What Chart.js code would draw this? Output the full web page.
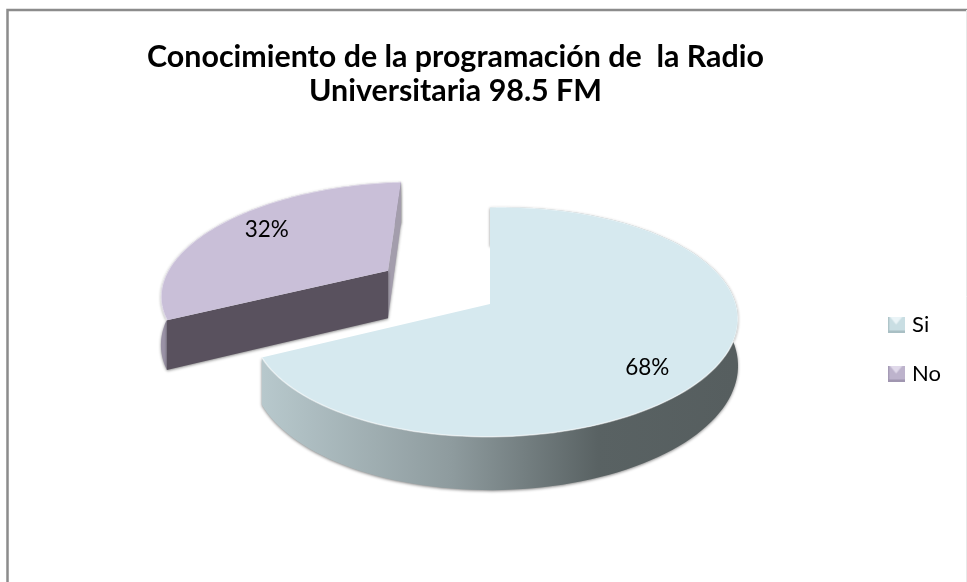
<!DOCTYPE html>
<html>
<head>
<meta charset="utf-8">
<style>
  html, body { margin: 0; padding: 0; background: #fff; }
  #wrap { width: 967px; height: 582px; position: relative; overflow: hidden; }
</style>
<script src="https://cdn.jsdelivr.net/npm/chart.js@4"></script>
</head>
<body>
<div id="wrap"><canvas id="pieChart" width="967" height="582"></canvas></div>
<script>
var titleLines = ["Conocimiento de la programación de  la Radio", "Universitaria 98.5 FM"];
var categories = ["Si", "No"];
var values = [68, 32];

var topColors = ["#d6e9ef", "#c9bfd8"];
var rimColors = [null, "#9a92a6"];
var wallHeights = [45, 50];
var sliceNudge = [[0, 0], [-2, -5]];
var labelNudge = [[0, 19], [0, -11]];

// plate -> screen projection, the 3D look of the pie
var view = { cx: 490, cy: 304, b: 240, a: 112, k: 0.1565, m: 0.02, t: -3.5 };

function project(u, v, depth) {
  var w = 1 - view.k * v - view.m * u;
  return {
    x: view.cx + (view.b * u) / w,
    y: view.cy + (view.a * v + view.t * u) / w,
    d: depth / w
  };
}

function arcPoints(el, i) {
  var mid = (el.startAngle + el.endAngle) / 2;
  var ex = el.options.offset / el.outerRadius;
  var ox = Math.cos(mid) * ex, oy = Math.sin(mid) * ex;
  var pts = [];
  var steps = 120;
  for (var n = 0; n <= steps; n++) {
    var a = el.startAngle + (el.endAngle - el.startAngle) * n / steps;
    pts.push(project(ox + Math.cos(a), oy + Math.sin(a), wallHeights[i]));
  }
  return { rim: pts, apex: project(ox, oy, wallHeights[i]), ox: ox, oy: oy, mid: mid };
}

function poly(ctx, pts, fill) {
  ctx.beginPath();
  pts.forEach(function (p, i) {
    if (i === 0) ctx.moveTo(p.x, p.y);
    else ctx.lineTo(p.x, p.y);
  });
  ctx.closePath();
  ctx.fillStyle = fill;
  ctx.fill();
}

function down(p) {
  return { x: p.x, y: p.y + p.d };
}

function drawSlice(ctx, el, i) {
  var g = arcPoints(el, i);
  var first = g.rim[0], last = g.rim[g.rim.length - 1];

  ctx.save();
  ctx.translate(sliceNudge[i][0], sliceNudge[i][1]);

  ctx.save();
  ctx.shadowColor = "rgba(0,0,0,0.45)";
  ctx.shadowBlur = 3;
  ctx.shadowOffsetY = 1;

  // outer wall
  var fill = rimColors[i];
  if (!fill) {
    fill = ctx.createLinearGradient(263, 0, 735, 0);
    fill.addColorStop(0, "#b7c8cc");
    fill.addColorStop(0.4, "#8e9b9e");
    fill.addColorStop(0.71, "#596263");
    fill.addColorStop(1, "#565e5f");
  }
  poly(ctx, g.rim.concat(g.rim.map(down).reverse()), fill);

  // cut faces, only the parts that show
  if (i === 0) {
    poly(ctx, [down(first), g.apex, down(g.apex)], "#5f6b6c");
  } else {
    poly(ctx, [g.apex, last, down(last), down(g.apex)], "#a39dac");
    poly(ctx, [g.apex, first, down(first), down(g.apex)], "#59515e");
  }
  ctx.restore();

  // top face
  poly(ctx, [g.apex].concat(g.rim), el.options.backgroundColor);

  // light bevel on the rim
  ctx.beginPath();
  g.rim.forEach(function (p, n) {
    if (n === 0) ctx.moveTo(p.x, p.y);
    else ctx.lineTo(p.x, p.y);
  });
  ctx.strokeStyle = "rgba(255,255,255,0.5)";
  ctx.lineWidth = 1.5;
  ctx.stroke();
  ctx.restore();
}

var pie3d = {
  id: "pie3d",
  beforeDraw: function (chart) {
    var ctx = chart.ctx;
    ctx.save();
    ctx.strokeStyle = "#8c8c8c";
    ctx.lineWidth = 2.5;
    ctx.beginPath();
    ctx.moveTo(7.5, 590);
    ctx.lineTo(7.5, 10);
    ctx.lineTo(967, 10);
    ctx.stroke();
    ctx.strokeStyle = "#e8e8e8";
    ctx.lineWidth = 1;
    ctx.beginPath();
    ctx.moveTo(966.5, 10);
    ctx.lineTo(966.5, 590);
    ctx.stroke();
    ctx.restore();
  },
  afterLayout: function (chart) {
    // title and legend sit off centre in the original
    chart.titleBlock.left -= 28;
    chart.titleBlock.right -= 28;
    chart.legend.left -= 16;
    chart.legend.right -= 16;
    chart.legend.top += 39;
    chart.legend.bottom += 39;
  },
  beforeDatasetDraw: function (chart, args) {
    var ctx = chart.ctx;
    var arcs = chart.getDatasetMeta(args.index).data;
    // slice that sits behind goes first
    drawSlice(ctx, arcs[1], 1);
    drawSlice(ctx, arcs[0], 0);

    ctx.save();
    ctx.fillStyle = "#000";
    ctx.font = "22.5px Lato";
    ctx.textAlign = "center";
    ctx.textBaseline = "middle";
    var total = values.reduce(function (s, v) { return s + v; }, 0);
    arcs.forEach(function (el, i) {
      var g = arcPoints(el, i);
      var p = project(g.ox + Math.cos(g.mid) * 0.72, g.oy + Math.sin(g.mid) * 0.72, 0);
      ctx.fillText(Math.round(values[i] / total * 100) + "%", p.x + labelNudge[i][0], p.y + labelNudge[i][1]);
    });
    ctx.restore();
    return false;
  }
};

function legendIcon(color, light, dark) {
  var c = document.createElement("canvas");
  c.width = 17;
  c.height = 16;
  var g = c.getContext("2d");
  g.fillStyle = color;
  g.fillRect(0, 0, 17, 16);
  g.fillStyle = light;
  g.beginPath();
  g.moveTo(2, 0);
  g.lineTo(15, 0);
  g.lineTo(8.5, 8);
  g.closePath();
  g.fill();
  g.fillStyle = dark;
  g.fillRect(0, 14, 17, 2);
  g.fillRect(0, 0, 1.5, 16);
  return c;
}

var icons = [
  legendIcon("#c9dee3", "#eaf4f7", "#a9bfc4"),
  legendIcon("#bdb3cc", "#e0d9ea", "#a096b0")
];

new Chart(document.getElementById("pieChart").getContext("2d"), {
  type: "pie",
  data: {
    labels: categories,
    datasets: [
      {
        data: values,
        backgroundColor: topColors,
        borderWidth: 0,
        offset: [0, 96],
        hoverOffset: 0
      }
    ]
  },
  options: {
    responsive: false,
    animation: false,
    layout: { padding: { top: 38, right: 0, bottom: 0, left: 0 } },
    plugins: {
      tooltip: { enabled: false },
      title: {
        display: true,
        text: titleLines,
        color: "#000",
        font: { family: "Lato", size: 30.4, weight: "bold", lineHeight: 1.12 },
        padding: { top: 2, bottom: 8 }
      },
      legend: {
        position: "right",
        labels: {
          color: "#000",
          font: { family: "Lato", size: 22 },
          padding: 27,
          usePointStyle: true,
          pointStyleWidth: 10,
          generateLabels: function (chart) {
            return categories.map(function (name, i) {
              return { text: name, pointStyle: icons[i], fontColor: "#000", index: i, hidden: false, lineWidth: 0 };
            });
          }
        }
      }
    }
  },
  plugins: [pie3d]
});
</script>
</body>
</html>
